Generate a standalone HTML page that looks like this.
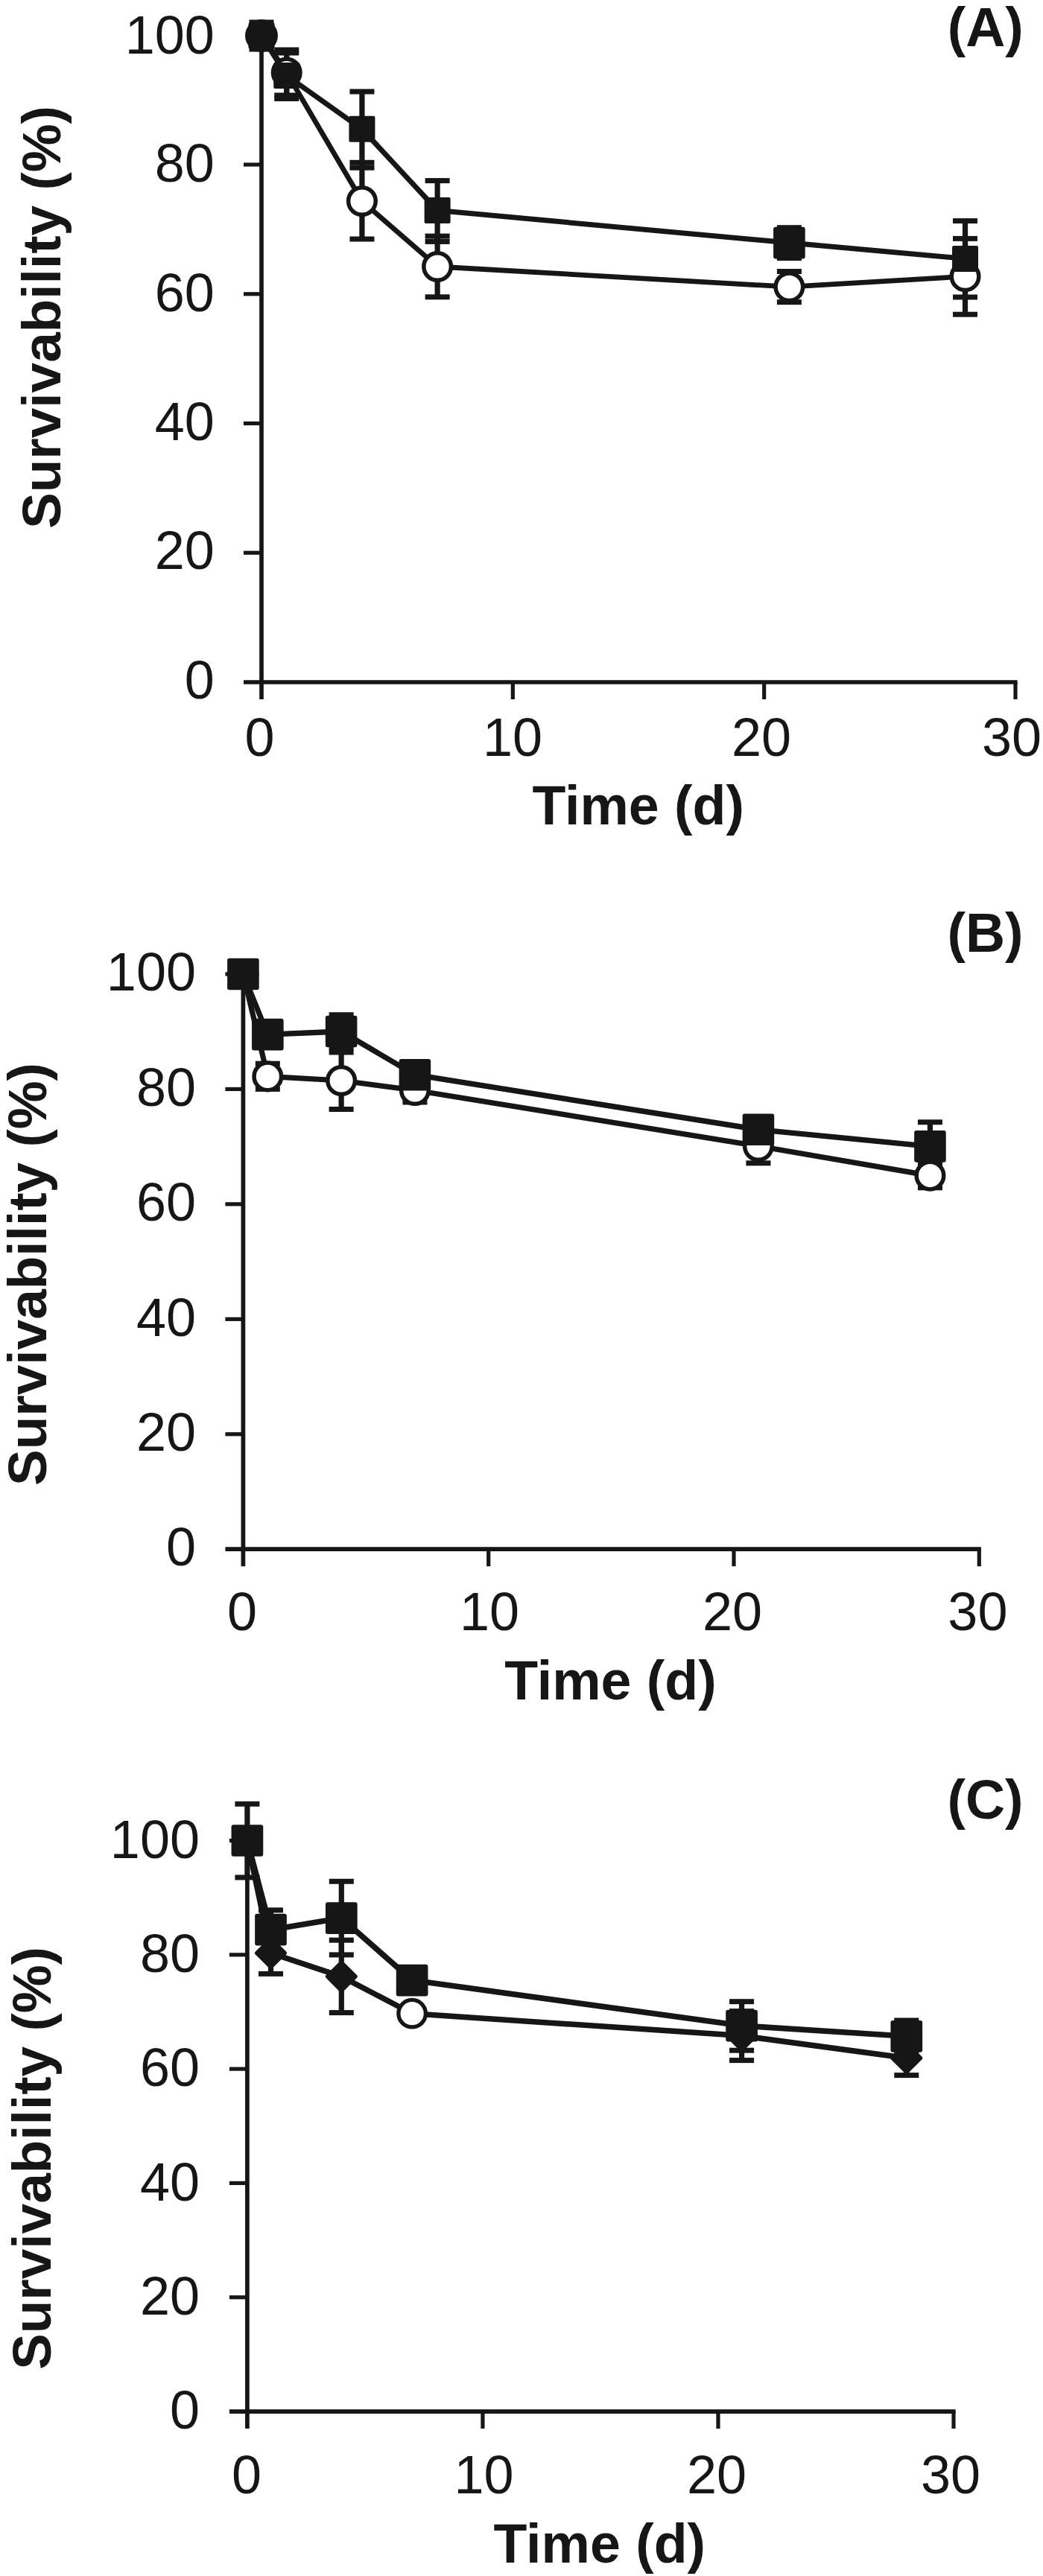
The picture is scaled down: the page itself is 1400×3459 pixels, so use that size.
<!DOCTYPE html>
<html lang="en">
<head>
<meta charset="utf-8">
<title>Survivability (%) vs Time (d)</title>
<style>
html,body{margin:0;padding:0;background:#fff;}
body{width:1400px;height:3459px;overflow:hidden;}
svg{display:block;}
svg text{font-family:"Liberation Sans",Arial,Helvetica,sans-serif;fill:#161616;}
</style>
</head>
<body>
<svg width="1400" height="3459" viewBox="0 0 1400 3459">
<rect x="0" y="0" width="1400" height="3459" fill="#ffffff"/>
<line x1="351.00" y1="47.30" x2="351.00" y2="939.00" stroke="#161616" stroke-width="5.7" stroke-linecap="butt"/>
<line x1="327.00" y1="916.00" x2="1365.60" y2="916.00" stroke="#161616" stroke-width="5.7" stroke-linecap="butt"/>
<line x1="327.00" y1="742.26" x2="351.00" y2="742.26" stroke="#161616" stroke-width="5.2" stroke-linecap="butt"/>
<line x1="327.00" y1="568.52" x2="351.00" y2="568.52" stroke="#161616" stroke-width="5.2" stroke-linecap="butt"/>
<line x1="327.00" y1="394.78" x2="351.00" y2="394.78" stroke="#161616" stroke-width="5.2" stroke-linecap="butt"/>
<line x1="327.00" y1="221.04" x2="351.00" y2="221.04" stroke="#161616" stroke-width="5.2" stroke-linecap="butt"/>
<line x1="688.33" y1="916.00" x2="688.33" y2="939.00" stroke="#161616" stroke-width="5.2" stroke-linecap="butt"/>
<line x1="1025.67" y1="916.00" x2="1025.67" y2="939.00" stroke="#161616" stroke-width="5.2" stroke-linecap="butt"/>
<line x1="1363.00" y1="916.00" x2="1363.00" y2="939.00" stroke="#161616" stroke-width="5.2" stroke-linecap="butt"/>
<text x="287.80" y="72.00" font-size="72" text-anchor="end">100</text>
<text x="287.80" y="244.00" font-size="72" text-anchor="end">80</text>
<text x="287.80" y="417.50" font-size="72" text-anchor="end">60</text>
<text x="287.80" y="590.50" font-size="72" text-anchor="end">40</text>
<text x="287.80" y="764.00" font-size="72" text-anchor="end">20</text>
<text x="287.80" y="938.00" font-size="72" text-anchor="end">0</text>
<text x="348.50" y="1015.00" font-size="72" text-anchor="middle">0</text>
<text x="688.00" y="1015.00" font-size="72" text-anchor="middle">10</text>
<text x="1022.00" y="1015.00" font-size="72" text-anchor="middle">20</text>
<text x="1358.00" y="1015.00" font-size="72" text-anchor="middle">30</text>
<text x="856.70" y="1107.00" font-size="73.5" text-anchor="middle" font-weight="bold">Time (d)</text>
<text x="81.00" y="710.00" font-size="73" text-anchor="start" font-weight="bold" transform="rotate(-90 81.00 710.00)">Survivability (%)</text>
<text x="1322.70" y="62.00" font-size="73.5" text-anchor="middle" font-weight="bold">(A)</text>
<polyline points="351.00,48.00 384.73,97.50 485.93,270.00 587.13,358.00 1059.40,385.20 1295.53,371.20" fill="none" stroke="#161616" stroke-width="6.8" stroke-linejoin="round"/>
<polyline points="351.00,48.00 384.73,101.50 485.93,173.30 587.13,282.50 1059.40,326.10 1295.53,347.40" fill="none" stroke="#161616" stroke-width="7.0" stroke-linejoin="round"/>
<rect x="347.40" y="30.00" width="7.20" height="36.00" rx="0" fill="#161616"/>
<rect x="334.50" y="26.50" width="33.00" height="7.00" rx="0" fill="#161616"/>
<rect x="334.50" y="62.50" width="33.00" height="7.00" rx="0" fill="#161616"/>
<rect x="381.13" y="67.00" width="7.20" height="61.00" rx="0" fill="#161616"/>
<rect x="368.23" y="63.50" width="33.00" height="7.00" rx="0" fill="#161616"/>
<rect x="368.23" y="124.50" width="33.00" height="7.00" rx="0" fill="#161616"/>
<rect x="482.33" y="218.30" width="7.20" height="102.70" rx="0" fill="#161616"/>
<rect x="469.43" y="214.80" width="33.00" height="7.00" rx="0" fill="#161616"/>
<rect x="469.43" y="317.50" width="33.00" height="7.00" rx="0" fill="#161616"/>
<rect x="583.53" y="317.10" width="7.20" height="81.70" rx="0" fill="#161616"/>
<rect x="570.63" y="313.60" width="33.00" height="7.00" rx="0" fill="#161616"/>
<rect x="570.63" y="395.30" width="33.00" height="7.00" rx="0" fill="#161616"/>
<rect x="1055.80" y="364.50" width="7.20" height="41.20" rx="0" fill="#161616"/>
<rect x="1042.90" y="361.00" width="33.00" height="7.00" rx="0" fill="#161616"/>
<rect x="1042.90" y="402.20" width="33.00" height="7.00" rx="0" fill="#161616"/>
<rect x="1291.93" y="320.40" width="7.20" height="101.80" rx="0" fill="#161616"/>
<rect x="1279.03" y="316.90" width="33.00" height="7.00" rx="0" fill="#161616"/>
<rect x="1279.03" y="418.70" width="33.00" height="7.00" rx="0" fill="#161616"/>
<rect x="381.13" y="71.00" width="7.20" height="61.50" rx="0" fill="#161616"/>
<rect x="368.23" y="67.50" width="33.00" height="7.00" rx="0" fill="#161616"/>
<rect x="368.23" y="129.00" width="33.00" height="7.00" rx="0" fill="#161616"/>
<rect x="482.33" y="123.00" width="7.20" height="102.20" rx="0" fill="#161616"/>
<rect x="469.43" y="119.50" width="33.00" height="7.00" rx="0" fill="#161616"/>
<rect x="469.43" y="221.70" width="33.00" height="7.00" rx="0" fill="#161616"/>
<rect x="583.53" y="242.60" width="7.20" height="81.80" rx="0" fill="#161616"/>
<rect x="570.63" y="239.10" width="33.00" height="7.00" rx="0" fill="#161616"/>
<rect x="570.63" y="320.90" width="33.00" height="7.00" rx="0" fill="#161616"/>
<rect x="1055.80" y="305.70" width="7.20" height="40.90" rx="0" fill="#161616"/>
<rect x="1042.90" y="302.20" width="33.00" height="7.00" rx="0" fill="#161616"/>
<rect x="1042.90" y="343.10" width="33.00" height="7.00" rx="0" fill="#161616"/>
<rect x="1291.93" y="296.60" width="7.20" height="102.40" rx="0" fill="#161616"/>
<rect x="1279.03" y="293.10" width="33.00" height="7.00" rx="0" fill="#161616"/>
<rect x="1279.03" y="395.50" width="33.00" height="7.00" rx="0" fill="#161616"/>
<circle cx="351.00" cy="48.00" r="19.2" fill="#fff" stroke="#161616" stroke-width="5.5"/>
<circle cx="384.73" cy="97.50" r="18.3" fill="#fff" stroke="#161616" stroke-width="5.5"/>
<circle cx="485.93" cy="270.00" r="18.3" fill="#fff" stroke="#161616" stroke-width="5.5"/>
<circle cx="587.13" cy="358.00" r="18.3" fill="#fff" stroke="#161616" stroke-width="5.5"/>
<circle cx="1059.40" cy="385.20" r="18.3" fill="#fff" stroke="#161616" stroke-width="5.5"/>
<circle cx="1295.53" cy="371.20" r="18.3" fill="#fff" stroke="#161616" stroke-width="5.5"/>
<rect x="333.50" y="30.50" width="35.00" height="35.00" rx="2" fill="#161616"/>
<rect x="367.23" y="84.00" width="35.00" height="35.00" rx="2" fill="#161616"/>
<rect x="468.43" y="155.80" width="35.00" height="35.00" rx="2" fill="#161616"/>
<rect x="569.63" y="265.00" width="35.00" height="35.00" rx="2" fill="#161616"/>
<rect x="1038.10" y="304.80" width="42.60" height="42.60" rx="3" fill="#161616"/>
<rect x="1278.03" y="329.90" width="35.00" height="35.00" rx="2" fill="#161616"/>
<line x1="326.40" y1="1308.00" x2="326.40" y2="2103.20" stroke="#161616" stroke-width="5.7" stroke-linecap="butt"/>
<line x1="302.40" y1="2080.20" x2="1316.90" y2="2080.20" stroke="#161616" stroke-width="5.7" stroke-linecap="butt"/>
<line x1="302.40" y1="1925.76" x2="326.40" y2="1925.76" stroke="#161616" stroke-width="5.2" stroke-linecap="butt"/>
<line x1="302.40" y1="1771.32" x2="326.40" y2="1771.32" stroke="#161616" stroke-width="5.2" stroke-linecap="butt"/>
<line x1="302.40" y1="1616.88" x2="326.40" y2="1616.88" stroke="#161616" stroke-width="5.2" stroke-linecap="butt"/>
<line x1="302.40" y1="1462.44" x2="326.40" y2="1462.44" stroke="#161616" stroke-width="5.2" stroke-linecap="butt"/>
<line x1="302.40" y1="1308.00" x2="326.40" y2="1308.00" stroke="#161616" stroke-width="5.2" stroke-linecap="butt"/>
<line x1="655.70" y1="2080.20" x2="655.70" y2="2103.20" stroke="#161616" stroke-width="5.2" stroke-linecap="butt"/>
<line x1="985.00" y1="2080.20" x2="985.00" y2="2103.20" stroke="#161616" stroke-width="5.2" stroke-linecap="butt"/>
<line x1="1314.30" y1="2080.20" x2="1314.30" y2="2103.20" stroke="#161616" stroke-width="5.2" stroke-linecap="butt"/>
<text x="263.00" y="1330.20" font-size="72" text-anchor="end">100</text>
<text x="263.00" y="1484.64" font-size="72" text-anchor="end">80</text>
<text x="263.00" y="1639.08" font-size="72" text-anchor="end">60</text>
<text x="263.00" y="1793.52" font-size="72" text-anchor="end">40</text>
<text x="263.00" y="1947.96" font-size="72" text-anchor="end">20</text>
<text x="263.00" y="2102.40" font-size="72" text-anchor="end">0</text>
<text x="325.00" y="2189.00" font-size="72" text-anchor="middle">0</text>
<text x="657.00" y="2189.00" font-size="72" text-anchor="middle">10</text>
<text x="983.00" y="2189.00" font-size="72" text-anchor="middle">20</text>
<text x="1312.40" y="2189.00" font-size="72" text-anchor="middle">30</text>
<text x="819.40" y="2282.40" font-size="73.5" text-anchor="middle" font-weight="bold">Time (d)</text>
<text x="61.80" y="1995.00" font-size="73" text-anchor="start" font-weight="bold" transform="rotate(-90 61.80 1995.00)">Survivability (%)</text>
<text x="1322.50" y="1277.80" font-size="73.5" text-anchor="middle" font-weight="bold">(B)</text>
<polyline points="326.40,1308.00 359.33,1445.40 458.12,1451.00 556.91,1464.00 1017.93,1539.00 1248.44,1578.60" fill="none" stroke="#161616" stroke-width="7.2" stroke-linejoin="round"/>
<polyline points="326.40,1308.00 359.33,1389.10 458.12,1385.00 556.91,1443.20 1017.93,1516.80 1248.44,1539.40" fill="none" stroke="#161616" stroke-width="7.3" stroke-linejoin="round"/>
<rect x="355.73" y="1428.20" width="7.20" height="34.20" rx="0" fill="#161616"/>
<rect x="342.83" y="1424.70" width="33.00" height="7.00" rx="0" fill="#161616"/>
<rect x="342.83" y="1458.90" width="33.00" height="7.00" rx="0" fill="#161616"/>
<rect x="454.52" y="1413.00" width="7.20" height="76.50" rx="0" fill="#161616"/>
<rect x="441.62" y="1409.50" width="33.00" height="7.00" rx="0" fill="#161616"/>
<rect x="441.62" y="1486.00" width="33.00" height="7.00" rx="0" fill="#161616"/>
<rect x="553.31" y="1448.00" width="7.20" height="32.00" rx="0" fill="#161616"/>
<rect x="540.41" y="1444.50" width="33.00" height="7.00" rx="0" fill="#161616"/>
<rect x="540.41" y="1476.50" width="33.00" height="7.00" rx="0" fill="#161616"/>
<rect x="1014.33" y="1516.00" width="7.20" height="45.80" rx="0" fill="#161616"/>
<rect x="1001.43" y="1512.50" width="33.00" height="7.00" rx="0" fill="#161616"/>
<rect x="1001.43" y="1558.30" width="33.00" height="7.00" rx="0" fill="#161616"/>
<rect x="1244.84" y="1562.40" width="7.20" height="32.40" rx="0" fill="#161616"/>
<rect x="1231.94" y="1558.90" width="33.00" height="7.00" rx="0" fill="#161616"/>
<rect x="1231.94" y="1591.30" width="33.00" height="7.00" rx="0" fill="#161616"/>
<rect x="454.52" y="1362.70" width="7.20" height="44.60" rx="0" fill="#161616"/>
<rect x="441.62" y="1359.20" width="33.00" height="7.00" rx="0" fill="#161616"/>
<rect x="441.62" y="1403.80" width="33.00" height="7.00" rx="0" fill="#161616"/>
<rect x="1244.84" y="1506.80" width="7.20" height="65.20" rx="0" fill="#161616"/>
<rect x="1231.94" y="1503.30" width="33.00" height="7.00" rx="0" fill="#161616"/>
<rect x="1231.94" y="1568.50" width="33.00" height="7.00" rx="0" fill="#161616"/>
<circle cx="326.40" cy="1308.00" r="18.3" fill="#fff" stroke="#161616" stroke-width="5.5"/>
<circle cx="359.33" cy="1445.40" r="18.3" fill="#fff" stroke="#161616" stroke-width="5.5"/>
<circle cx="458.12" cy="1451.00" r="18.3" fill="#fff" stroke="#161616" stroke-width="5.5"/>
<circle cx="556.91" cy="1464.00" r="18.3" fill="#fff" stroke="#161616" stroke-width="5.5"/>
<circle cx="1017.93" cy="1539.00" r="18.3" fill="#fff" stroke="#161616" stroke-width="5.5"/>
<circle cx="1248.44" cy="1578.60" r="18.3" fill="#fff" stroke="#161616" stroke-width="5.5"/>
<rect x="305.10" y="1286.70" width="42.60" height="42.60" rx="3" fill="#161616"/>
<rect x="338.03" y="1367.80" width="42.60" height="42.60" rx="3" fill="#161616"/>
<rect x="436.82" y="1363.70" width="42.60" height="42.60" rx="3" fill="#161616"/>
<rect x="535.61" y="1421.90" width="42.60" height="42.60" rx="3" fill="#161616"/>
<rect x="996.63" y="1495.50" width="42.60" height="42.60" rx="3" fill="#161616"/>
<rect x="1227.14" y="1518.10" width="42.60" height="42.60" rx="3" fill="#161616"/>
<line x1="331.90" y1="2471.50" x2="331.90" y2="3261.10" stroke="#161616" stroke-width="5.7" stroke-linecap="butt"/>
<line x1="307.90" y1="3238.10" x2="1282.60" y2="3238.10" stroke="#161616" stroke-width="5.7" stroke-linecap="butt"/>
<line x1="307.90" y1="3084.78" x2="331.90" y2="3084.78" stroke="#161616" stroke-width="5.2" stroke-linecap="butt"/>
<line x1="307.90" y1="2931.46" x2="331.90" y2="2931.46" stroke="#161616" stroke-width="5.2" stroke-linecap="butt"/>
<line x1="307.90" y1="2778.14" x2="331.90" y2="2778.14" stroke="#161616" stroke-width="5.2" stroke-linecap="butt"/>
<line x1="307.90" y1="2624.82" x2="331.90" y2="2624.82" stroke="#161616" stroke-width="5.2" stroke-linecap="butt"/>
<line x1="307.90" y1="2471.50" x2="331.90" y2="2471.50" stroke="#161616" stroke-width="5.2" stroke-linecap="butt"/>
<line x1="647.93" y1="3238.10" x2="647.93" y2="3261.10" stroke="#161616" stroke-width="5.2" stroke-linecap="butt"/>
<line x1="963.97" y1="3238.10" x2="963.97" y2="3261.10" stroke="#161616" stroke-width="5.2" stroke-linecap="butt"/>
<line x1="1280.00" y1="3238.10" x2="1280.00" y2="3261.10" stroke="#161616" stroke-width="5.2" stroke-linecap="butt"/>
<text x="268.00" y="2494.70" font-size="72" text-anchor="end">100</text>
<text x="268.00" y="2648.02" font-size="72" text-anchor="end">80</text>
<text x="268.00" y="2801.34" font-size="72" text-anchor="end">60</text>
<text x="268.00" y="2954.66" font-size="72" text-anchor="end">40</text>
<text x="268.00" y="3107.98" font-size="72" text-anchor="end">20</text>
<text x="268.00" y="3261.30" font-size="72" text-anchor="end">0</text>
<text x="331.00" y="3347.80" font-size="72" text-anchor="middle">0</text>
<text x="649.50" y="3347.80" font-size="72" text-anchor="middle">10</text>
<text x="962.00" y="3347.80" font-size="72" text-anchor="middle">20</text>
<text x="1276.00" y="3347.80" font-size="72" text-anchor="middle">30</text>
<text x="804.80" y="3441.40" font-size="73.5" text-anchor="middle" font-weight="bold">Time (d)</text>
<text x="67.50" y="3182.00" font-size="73" text-anchor="start" font-weight="bold" transform="rotate(-90 67.50 3182.00)">Survivability (%)</text>
<text x="1322.50" y="2441.60" font-size="73.5" text-anchor="middle" font-weight="bold">(C)</text>
<polyline points="331.90,2471.50 363.50,2622.50 458.31,2654.10 553.12,2703.70 995.57,2733.60 1216.79,2763.50" fill="none" stroke="#161616" stroke-width="7.5" stroke-linejoin="round"/>
<polyline points="331.90,2471.50 363.50,2591.20 458.31,2575.60 553.12,2659.10 995.57,2720.10 1216.79,2734.30" fill="none" stroke="#161616" stroke-width="7.6" stroke-linejoin="round"/>
<rect x="359.90" y="2595.00" width="7.20" height="55.40" rx="0" fill="#161616"/>
<rect x="347.00" y="2591.50" width="33.00" height="7.00" rx="0" fill="#161616"/>
<rect x="347.00" y="2646.90" width="33.00" height="7.00" rx="0" fill="#161616"/>
<rect x="454.71" y="2605.20" width="7.20" height="97.40" rx="0" fill="#161616"/>
<rect x="441.81" y="2601.70" width="33.00" height="7.00" rx="0" fill="#161616"/>
<rect x="441.81" y="2699.10" width="33.00" height="7.00" rx="0" fill="#161616"/>
<rect x="991.97" y="2700.60" width="7.20" height="66.00" rx="0" fill="#161616"/>
<rect x="979.07" y="2697.10" width="33.00" height="7.00" rx="0" fill="#161616"/>
<rect x="979.07" y="2763.10" width="33.00" height="7.00" rx="0" fill="#161616"/>
<rect x="1213.19" y="2741.40" width="7.20" height="45.20" rx="0" fill="#161616"/>
<rect x="1200.29" y="2737.90" width="33.00" height="7.00" rx="0" fill="#161616"/>
<rect x="1200.29" y="2783.10" width="33.00" height="7.00" rx="0" fill="#161616"/>
<rect x="328.30" y="2422.30" width="7.20" height="98.70" rx="0" fill="#161616"/>
<rect x="315.40" y="2418.80" width="33.00" height="7.00" rx="0" fill="#161616"/>
<rect x="315.40" y="2517.50" width="33.00" height="7.00" rx="0" fill="#161616"/>
<rect x="359.90" y="2564.90" width="7.20" height="35.10" rx="0" fill="#161616"/>
<rect x="347.00" y="2561.40" width="33.00" height="7.00" rx="0" fill="#161616"/>
<rect x="347.00" y="2596.50" width="33.00" height="7.00" rx="0" fill="#161616"/>
<rect x="454.71" y="2526.30" width="7.20" height="98.60" rx="0" fill="#161616"/>
<rect x="441.81" y="2522.80" width="33.00" height="7.00" rx="0" fill="#161616"/>
<rect x="441.81" y="2621.40" width="33.00" height="7.00" rx="0" fill="#161616"/>
<rect x="991.97" y="2687.70" width="7.20" height="65.50" rx="0" fill="#161616"/>
<rect x="979.07" y="2684.20" width="33.00" height="7.00" rx="0" fill="#161616"/>
<rect x="979.07" y="2749.70" width="33.00" height="7.00" rx="0" fill="#161616"/>
<rect x="1213.19" y="2713.00" width="7.20" height="42.60" rx="0" fill="#161616"/>
<rect x="1200.29" y="2709.50" width="33.00" height="7.00" rx="0" fill="#161616"/>
<rect x="1200.29" y="2752.10" width="33.00" height="7.00" rx="0" fill="#161616"/>
<rect x="-16.00" y="-16.00" width="32" height="32" rx="2.5" fill="#161616" transform="translate(363.50 2622.50) rotate(45)"/>
<rect x="-16.00" y="-16.00" width="32" height="32" rx="2.5" fill="#161616" transform="translate(458.31 2654.10) rotate(45)"/>
<circle cx="553.12" cy="2703.70" r="18.25" fill="#fff" stroke="#161616" stroke-width="5.3"/>
<rect x="-16.00" y="-16.00" width="32" height="32" rx="2.5" fill="#161616" transform="translate(995.57 2733.60) rotate(45)"/>
<rect x="-16.00" y="-16.00" width="32" height="32" rx="2.5" fill="#161616" transform="translate(1216.79 2763.50) rotate(45)"/>
<rect x="310.55" y="2450.15" width="42.70" height="42.70" rx="3" fill="#161616"/>
<rect x="342.15" y="2569.85" width="42.70" height="42.70" rx="3" fill="#161616"/>
<rect x="436.96" y="2554.25" width="42.70" height="42.70" rx="3" fill="#161616"/>
<rect x="531.77" y="2637.75" width="42.70" height="42.70" rx="3" fill="#161616"/>
<rect x="974.22" y="2698.75" width="42.70" height="42.70" rx="3" fill="#161616"/>
<rect x="1195.44" y="2712.95" width="42.70" height="42.70" rx="3" fill="#161616"/>
</svg>
</body>
</html>
